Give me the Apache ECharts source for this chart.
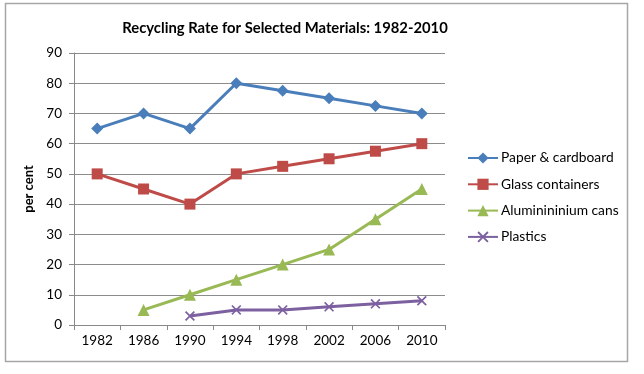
<!DOCTYPE html>
<html><head><meta charset="utf-8">
<script src="https://cdn.jsdelivr.net/npm/echarts@6/dist/echarts.min.js"></script>
<style>html,body{margin:0;padding:0;background:#fff}#c{width:644px;height:374px}</style>
</head><body><div id="c"></div>
<script>
const years = ['1982','1986','1990','1994','1998','2002','2006','2010'];
const paper = [65,70,65,80,77.5,75,72.5,70];
const glass = [50,45,40,50,52.5,55,57.5,60];
const aluminium = [null,5,10,15,20,25,35,45];
const plastics = [null,null,3,5,5,6,7,8];
const names = ['Paper & cardboard','Glass containers','Aluminininium cans','Plastics'];
const colors = ['#4A7EBB','#BE4B48','#98B954','#7D60A0'];
const FONT = 'Lato';
const cross = 'path://M0,1.2 L1.2,0 L5,3.8 L8.8,0 L10,1.2 L6.2,5 L10,8.8 L8.8,10 L5,6.2 L1.2,10 L0,8.8 L3.8,5 Z';
const chart = echarts.init(document.getElementById('c'));
function mk(i, data, symbol, size){
  return {name:names[i], type:'line', data:data, symbol:symbol, symbolSize:size,
    showAllSymbol:true, connectNulls:false,
    lineStyle:{color:colors[i], width:3}, itemStyle:{color:colors[i]}, emphasis:{disabled:true}};
}
chart.setOption({
  animation:false,
  textStyle:{fontFamily:FONT},
  title:{text:'Recycling Rate for Selected Materials: 1982-2010', left:280, top:16, textAlign:'center',
    textStyle:{fontFamily:FONT, fontSize:14.8, fontWeight:'bold', color:'#000'}},
  graphic:[{type:'rect', shape:{x:5.5,y:3.5,width:622,height:358}, style:{fill:'none', stroke:'#A6A6A6', lineWidth:1.5}, silent:true}],
  grid:{left:74, top:53, right:199, bottom:49},
  legend:{orient:'vertical', left:467, top:151, padding:0, itemWidth:30, itemHeight:14, itemGap:12.3,
    textStyle:{fontFamily:FONT, fontSize:13.8, color:'#000', padding:[0,0,0,-2]}, data:names},
  xAxis:{type:'category', data:years, boundaryGap:true,
    axisLine:{lineStyle:{color:'#888'}}, axisTick:{show:true, length:5, lineStyle:{color:'#888'}},
    axisLabel:{fontFamily:FONT, fontSize:13.5, color:'#000', margin:9}},
  yAxis:{type:'value', min:0, max:90, interval:10,
    name:'per cent', nameLocation:'middle', nameGap:36, nameRotate:90,
    nameTextStyle:{fontFamily:FONT, fontSize:13, fontWeight:'bold', color:'#000'},
    axisLine:{show:true, lineStyle:{color:'#888'}}, axisTick:{show:true, length:5, lineStyle:{color:'#888'}},
    splitLine:{lineStyle:{color:'#8C8C8C'}},
    axisLabel:{fontFamily:FONT, fontSize:13.5, color:'#000', margin:12}},
  series:[
    mk(0, paper, 'diamond', 12),
    mk(1, glass, 'rect', 11),
    mk(2, aluminium, 'triangle', 12),
    mk(3, plastics, cross, 10)
  ]
});
</script></body></html>
